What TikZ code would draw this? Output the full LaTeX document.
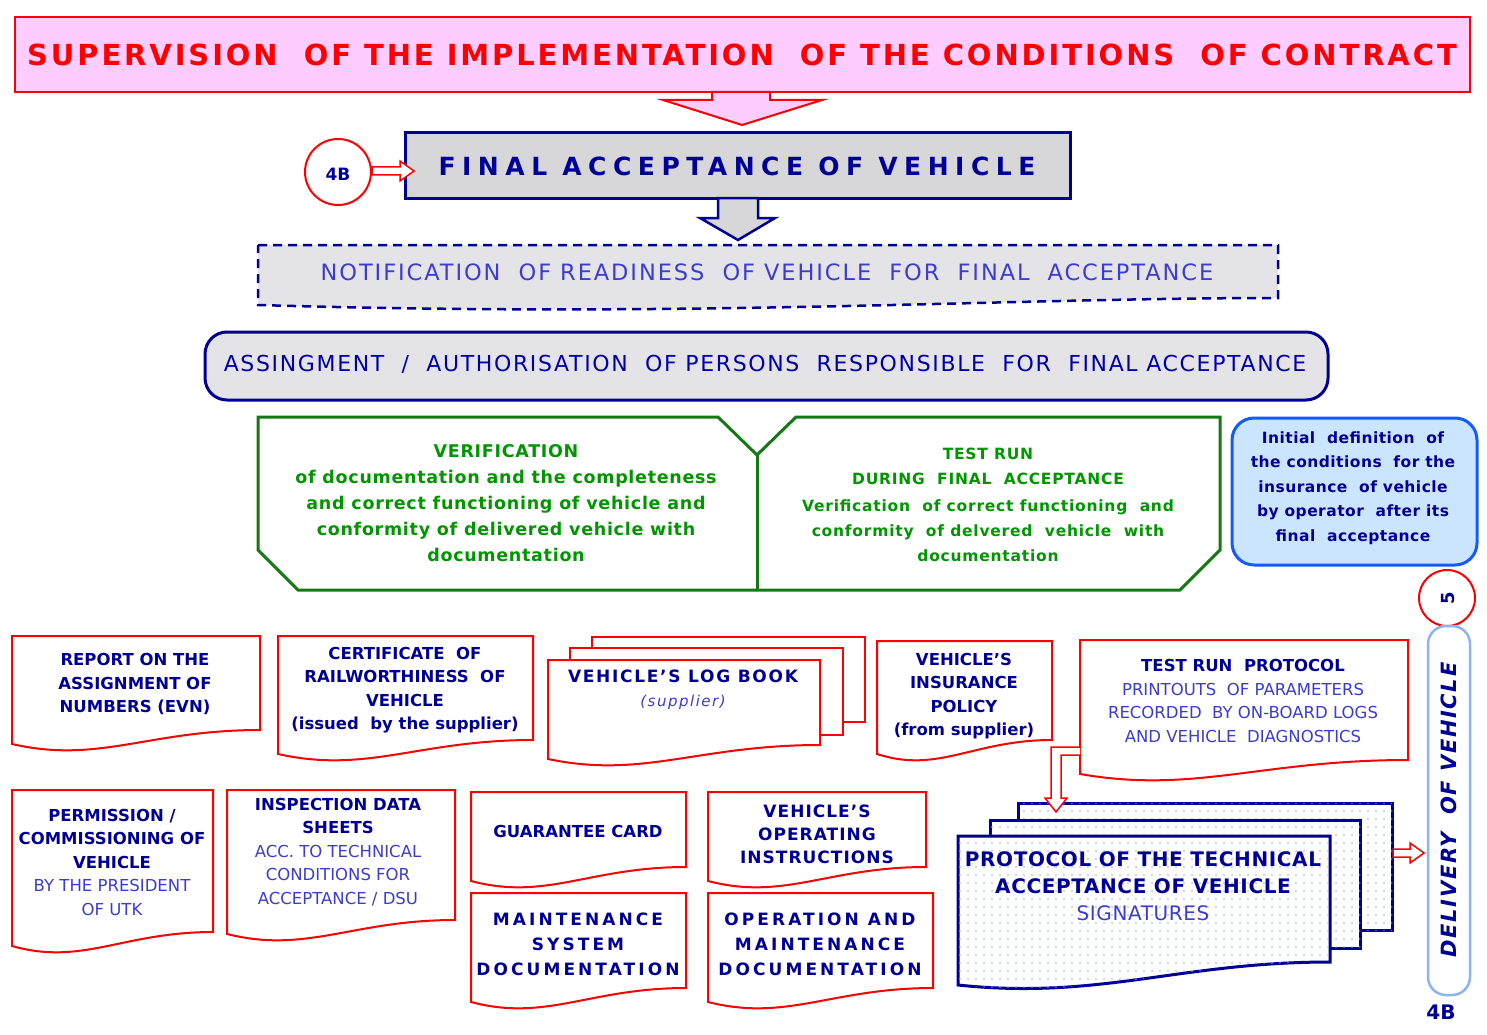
\documentclass[tikz,border=0pt]{standalone}
\usepackage{fontspec}
\setmainfont{DejaVu Sans}
\usetikzlibrary{patterns.meta}

\definecolor{navy}{RGB}{0,0,150}
\definecolor{blueT}{RGB}{60,60,210}
\definecolor{greenT}{RGB}{0,150,0}
\definecolor{greenB}{RGB}{20,120,20}
\definecolor{redL}{RGB}{255,0,0}
\definecolor{pinkF}{RGB}{255,204,255}
\definecolor{grayF}{RGB}{215,215,218}
\definecolor{lightF}{RGB}{228,228,232}
\definecolor{blueF}{RGB}{204,229,255}
\definecolor{blueB}{RGB}{20,90,255}
\definecolor{blueL}{RGB}{140,180,240}

% document outline with a wavy lower edge: x1, y1, x2, y2 (right lower corner)
\newcommand\docpath[4]{%
  (#1,#2) -- (#3,#2) -- (#3,#4)
  .. controls +({-0.45*(#3-#1)},0) and +({0.35*(#3-#1)},20) .. (#1,#4+14) -- cycle}

\tikzset{
  doc/.style={draw=redL, line width=2pt, fill=white},
  stack/.style={draw=navy, line width=3pt, fill=white,
    postaction={pattern={Dots[distance=8pt,radius=0.8pt]}, pattern color=blueL}},
  doctext/.style={text=navy, align=center, font=\fontsize{16.5}{23.5}\selectfont\bfseries},
  hollow/.style={draw=redL, line width=1.5pt, fill=white}
}
\newcommand\thin[1]{{\mdseries\color{blueT}#1}}

\begin{document}
\begin{tikzpicture}[x=1pt, y=-1pt]
  \useasboundingbox (0,0) rectangle (1487,1035);

  % title
  \draw[draw=redL, line width=2.5pt, fill=pinkF] (15,17) rectangle (1470,92);
  \node[text=redL, font=\fontsize{29}{30}\selectfont\bfseries\addfontfeature{LetterSpace=10}] (title) at (742,55)
    {SUPERVISION\ \ OF THE IMPLEMENTATION\ \ OF THE CONDITIONS\ \ OF CONTRACT};
  \draw[draw=redL, line width=2pt, fill=pinkF]
    (712,92) -- (770,92) -- (770,100) -- (822,100) -- (742,125) -- (663,100) -- (712,100) -- cycle;

  % final acceptance
  \draw[draw=navy, line width=3pt, fill=grayF] (405,133) rectangle (1070,198);
  \node[text=navy, font=\fontsize{25}{26}\selectfont\bfseries\addfontfeature{LetterSpace=26}] (final) at (737,166)
    {FINAL ACCEPTANCE OF VEHICLE};
  \draw[draw=redL, line width=2pt] (338,172) circle (33);
  \node[text=navy, font=\fontsize{17}{18}\selectfont\bfseries] (fourB) at (338,174) {4B};
  \draw[hollow] (372,167) -- (400,167) -- (400,161) -- (414,171) -- (400,181) -- (400,175) -- (372,175) -- cycle;
  \draw[draw=navy, line width=2.5pt, fill=grayF]
    (718,198) -- (758,198) -- (758,218) -- (775,218) -- (738,240) -- (700,218) -- (718,218) -- cycle;

  % notification
  \draw[draw=navy, line width=2.5pt, dash pattern=on 9pt off 6pt, fill=lightF]
    (258,245) -- (1278,245) -- (1278,298) .. controls (1000,298) and (700,318) .. (258,305) -- cycle;
  \node[text=blueT, font=\fontsize{22.5}{23}\selectfont\addfontfeature{LetterSpace=8.5}] (notif) at (767,272)
    {NOTIFICATION\ \ OF READINESS\ \ OF VEHICLE\ \ FOR\ \ FINAL\ \ ACCEPTANCE};

  % assignment
  \draw[draw=navy, line width=3pt, fill=lightF, rounded corners=22pt] (205,332) rectangle (1328,400);
  \node[text=navy!80!blue, font=\fontsize{22}{23}\selectfont\addfontfeature{LetterSpace=7.5}] (assign) at (765,364)
    {ASSINGMENT\ \ /\ \ AUTHORISATION\ \ OF PERSONS\ \ RESPONSIBLE\ \ FOR\ \ FINAL ACCEPTANCE};

  % verification / test run
  \draw[draw=greenB, line width=3pt, fill=white]
    (258,417) -- (718,417) -- (757,455) -- (796,417) -- (1220,417) -- (1220,550)
    -- (1180,590) -- (298,590) -- (258,550) -- cycle;
  \draw[draw=greenB, line width=3pt] (757,455) -- (757,590);
  \node[text=greenT, align=center, font=\fontsize{17.5}{26}\selectfont\bfseries\addfontfeature{LetterSpace=4}] (verif) at (506,503)
    {VERIFICATION\\of documentation and the completeness\\and correct functioning of vehicle and\\conformity of delivered vehicle with\\documentation};
  \node[text=greenT, align=center, font=\fontsize{15.5}{25}\selectfont\bfseries\addfontfeature{LetterSpace=5}] (testrun) at (988,505)
    {TEST RUN\\DURING\ \ FINAL\ \ ACCEPTANCE\\[2pt]Verification\ \ of correct functioning\ \ and\\conformity\ \ of delvered\ \ vehicle\ \ with\\documentation};

  % insurance
  \draw[draw=blueB, line width=3pt, fill=blueF, rounded corners=22pt] (1232,418) rectangle (1477,565);
  \node[text=navy, align=center, font=\fontsize{15.5}{24.5}\selectfont\bfseries\addfontfeature{LetterSpace=3}] (insur) at (1353,488)
    {Initial\ \ definition\ \ of\\the conditions\ \ for the\\insurance\ \ of vehicle\\by operator\ \ after its\\final\ \ acceptance};

  % delivery
  \draw[draw=redL, line width=2pt] (1447,598) circle (28);
  \node[text=navy, rotate=90, font=\fontsize{18}{18}\selectfont\bfseries] (five) at (1448,598) {5};
  \draw[draw=blueL, line width=2.5pt, rounded corners=18pt] (1428,626) rectangle (1470,995);
  \node[text=navy, rotate=90, font=\fontsize{21}{22}\selectfont\bfseries\itshape\addfontfeature{LetterSpace=8}] (deliv) at (1449,810)
    {DELIVERY\ \ OF VEHICLE};
  \node[text=navy, font=\fontsize{20}{20}\selectfont\bfseries] (fourBb) at (1441,1012) {4B};

  % documents, first row
  \draw[doc] \docpath{12}{636}{260}{730};
  \node[doctext] (evn) at (135,684) {REPORT ON THE\\ASSIGNMENT OF\\NUMBERS (EVN)};
  \draw[doc] \docpath{278}{636}{533}{740};
  \node[doctext] (cert) at (405,690) {CERTIFICATE\ \ OF\\RAILWORTHINESS\ \ OF\\VEHICLE\\(issued\ \ by the supplier)};
  \draw[doc] (592,637) rectangle (865,722);
  \draw[doc] (570,648) rectangle (843,735);
  \draw[doc] \docpath{548}{660}{820}{745};
  \node[doctext, font=\fontsize{17}{24}\selectfont\bfseries\addfontfeature{LetterSpace=10}] (logbook) at (683,690)
    {VEHICLE'S LOG BOOK\\\thin{\itshape\fontsize{15}{16}\selectfont(supplier)}};
  \draw[doc] \docpath{877}{641}{1052}{740};
  \node[doctext] (policy) at (964,696) {VEHICLE'S\\INSURANCE\\POLICY\\(from supplier)};
  \draw[doc] \docpath{1080}{640}{1408}{760};
  \node[doctext] (testprot) at (1243,701) {TEST RUN\ \ PROTOCOL\\\thin{PRINTOUTS\ \ OF PARAMETERS}\\\thin{RECORDED\ \ BY ON-BOARD LOGS}\\\thin{AND VEHICLE\ \ DIAGNOSTICS}};

  % documents, second row
  \draw[doc] \docpath{12}{790}{213}{932};
  \node[doctext] (permit) at (112,862) {PERMISSION /\\COMMISSIONING OF\\VEHICLE\\\thin{BY THE PRESIDENT}\\\thin{OF UTK}};
  \draw[doc] \docpath{227}{790}{455}{920};
  \node[doctext] (inspect) at (338,852) {INSPECTION DATA\\SHEETS\\\thin{ACC. TO TECHNICAL}\\\thin{CONDITIONS FOR}\\\thin{ACCEPTANCE / DSU}};
  \draw[doc] \docpath{471}{792}{686}{867};
  \node[doctext] (guarant) at (578,831) {GUARANTEE CARD};
  \draw[doc] \docpath{471}{893}{686}{988};
  \node[doctext, font=\fontsize{17}{25}\selectfont\bfseries\addfontfeature{LetterSpace=18}] (mainsys) at (578,944)
    {MAINTENANCE\\SYSTEM\\DOCUMENTATION};
  \draw[doc] \docpath{708}{792}{926}{867};
  \node[doctext, font=\fontsize{17}{23}\selectfont\bfseries\addfontfeature{LetterSpace=6}] (operinst) at (817,834)
    {VEHICLE'S\\OPERATING\\INSTRUCTIONS};
  \draw[doc] \docpath{708}{893}{933}{988};
  \node[doctext, font=\fontsize{17}{25}\selectfont\bfseries\addfontfeature{LetterSpace=18}] (opmain) at (820,944)
    {OPERATION AND\\MAINTENANCE\\DOCUMENTATION};

  % protocol of technical acceptance
  \draw[stack] (1018,803) rectangle (1392,930);
  \draw[stack] (990,820) rectangle (1360,948);
  \draw[stack] (958,836) -- (1330,836) -- (1330,962)
    .. controls (1180,962) and (1100,1000) .. (958,985) -- cycle;
  \node[doctext, font=\fontsize{20}{27}\selectfont\bfseries\addfontfeature{LetterSpace=3}] (protocol) at (1143,886)
    {PROTOCOL OF THE TECHNICAL\\ACCEPTANCE OF VEHICLE\\\thin{SIGNATURES}};

  % hollow arrows
  \draw[hollow] (1080,747) -- (1051,747) -- (1051,798) -- (1045,798) -- (1056,812)
    -- (1067,798) -- (1061,798) -- (1061,755) -- (1080,755);
  \draw[hollow] (1393,849) -- (1410,849) -- (1410,843) -- (1424,853) -- (1410,863) -- (1410,857) -- (1393,857) -- cycle;
\end{tikzpicture}
\end{document}
